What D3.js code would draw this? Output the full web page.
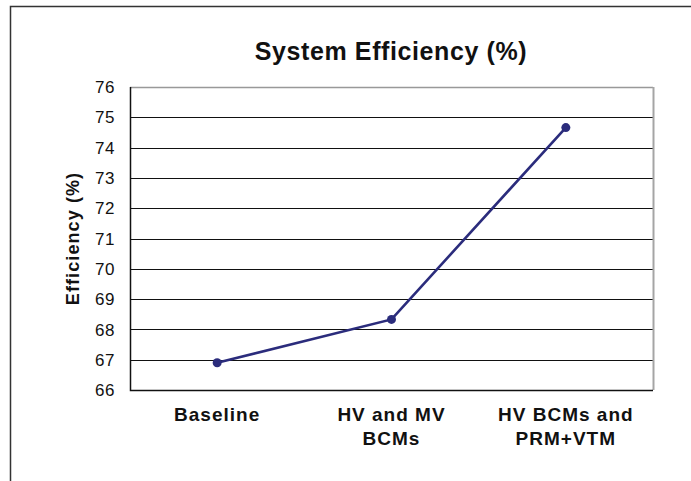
<!DOCTYPE html>
<html>
<head>
<meta charset="utf-8">
<script src="https://cdn.jsdelivr.net/npm/d3@7"></script>
<style>
  body { margin: 0; background: #fff; }
  svg { display: block; font-family: Arial, "Liberation Sans", sans-serif; }
</style>
</head>
<body>
<svg id="chart"></svg>
<script>
const categories = [["Baseline"], ["HV and MV", "BCMs"], ["HV BCMs and", "PRM+VTM"]];
const efficiency = [66.9, 68.33, 74.66];
const yTicks = [66, 67, 68, 69, 70, 71, 72, 73, 74, 75, 76];

const width = 691;
const height = 481;
const margin = { top: 87, right: 38, bottom: 91, left: 130 };

const svg = d3.select("#chart")
  .attr("width", width)
  .attr("height", height);

// outer frame (only left and top edges visible)
svg.append("path")
  .attr("d", `M10.5,${height + 5} L10.5,6.5 L${width + 5},6.5`)
  .attr("fill", "none")
  .attr("stroke", "#333")
  .attr("stroke-width", 1.5);

const x = d3.scaleBand()
  .domain(d3.range(categories.length))
  .range([margin.left, width - margin.right]);

const y = d3.scaleLinear()
  .domain([66, 76])
  .range([height - margin.bottom, margin.top]);

// gridlines
svg.append("g")
  .selectAll("line")
  .data(yTicks.slice(1))
  .join("line")
    .attr("x1", margin.left)
    .attr("x2", width - margin.right)
    .attr("y1", d => Math.round(y(d)) + 0.5)
    .attr("y2", d => Math.round(y(d)) + 0.5)
    .attr("stroke", d => d === 76 ? "#999" : "#111")
    .attr("stroke-width", d => d === 76 ? 1.5 : 1);

// right border
svg.append("line")
  .attr("x1", width - margin.right + 0.5)
  .attr("x2", width - margin.right + 0.5)
  .attr("y1", y(76))
  .attr("y2", y(66))
  .attr("stroke", "#a5a5a5")
  .attr("stroke-width", 2);

// left and bottom axes
svg.append("path")
  .attr("d", `M${margin.left + 0.5},${Math.round(y(76))} L${margin.left + 0.5},${Math.round(y(66)) + 0.5} L${width - margin.right},${Math.round(y(66)) + 0.5}`)
  .attr("fill", "none")
  .attr("stroke", "#111")
  .attr("stroke-width", 1.5);

// y tick labels
svg.append("g")
  .selectAll("text")
  .data(yTicks)
  .join("text")
    .attr("x", 115)
    .attr("y", d => y(d))
    .attr("dy", "0.36em")
    .attr("text-anchor", "end")
    .style("font-size", "17px")
    .style("letter-spacing", "0.5px")
    .attr("fill", "#111")
    .text(d => d);

// x labels
const xl = svg.append("g")
  .selectAll("text")
  .data(categories)
  .join("text")
    .attr("x", (d, i) => x(i) + x.bandwidth() / 2)
    .attr("y", 421)
    .attr("text-anchor", "middle")
    .style("font-size", "19px")
    .style("font-weight", "bold")
    .style("letter-spacing", "1px")
    .attr("fill", "#111");

xl.selectAll("tspan")
  .data(d => d)
  .join("tspan")
    .attr("x", function() { return d3.select(this.parentNode).attr("x"); })
    .attr("dy", (d, i) => i === 0 ? 0 : 24)
    .text(d => d);

// title
svg.append("text")
  .attr("x", 391)
  .attr("y", 60)
  .attr("text-anchor", "middle")
  .style("font-size", "25px")
  .style("font-weight", "bold")
  .style("letter-spacing", "0.6px")
  .attr("fill", "#111")
  .text("System Efficiency (%)");

// y axis title
svg.append("text")
  .attr("transform", `translate(79,${(y(66) + y(76)) / 2}) rotate(-90)`)
  .attr("text-anchor", "middle")
  .style("font-size", "18px")
  .style("font-weight", "bold")
  .style("letter-spacing", "1.1px")
  .attr("fill", "#111")
  .text("Efficiency (%)");

// series
const line = d3.line()
  .x((d, i) => x(i) + x.bandwidth() / 2)
  .y(d => y(d));

svg.append("path")
  .datum(efficiency)
  .attr("d", line)
  .attr("fill", "none")
  .attr("stroke", "#2b2c7c")
  .attr("stroke-width", 2.6);

svg.append("g")
  .selectAll("circle")
  .data(efficiency)
  .join("circle")
    .attr("cx", (d, i) => x(i) + x.bandwidth() / 2)
    .attr("cy", d => y(d))
    .attr("r", 4.5)
    .attr("fill", "#2b2c7c");
</script>
</body>
</html>
